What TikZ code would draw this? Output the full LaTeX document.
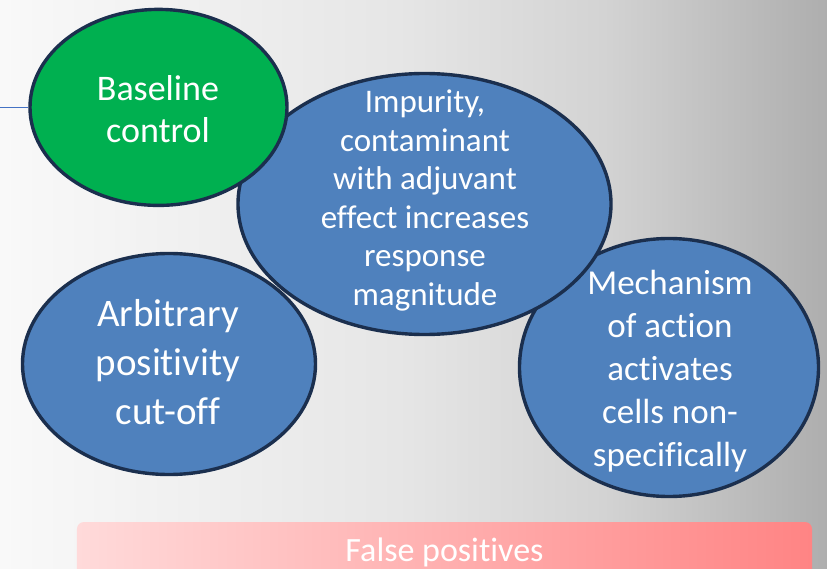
\documentclass[tikz,border=0pt]{standalone}
\usepackage{fontspec}
\setmainfont{Carlito}[Ligatures={NoCommon,NoContextual}]
\usetikzlibrary{shapes.geometric}

\definecolor{bgA}{HTML}{F9F9F9}
\definecolor{bgB}{HTML}{E6E6E6}
\definecolor{bgC}{HTML}{D3D3D3}
\definecolor{bgD}{HTML}{AEAEAE}
\definecolor{bubbleblue}{HTML}{4F81BD}
\definecolor{bubblegreen}{HTML}{00B050}
\definecolor{rim}{HTML}{1B2F4E}
\definecolor{linkblue}{HTML}{4472C4}
\definecolor{pinkL}{HTML}{FFDADA}
\definecolor{pinkR}{HTML}{FF8484}

% slide backdrop, light on the left and darker grey on the right
\pgfdeclarehorizontalshading{backdrop}{100bp}{%
  color(0bp)=(bgA); color(25bp)=(bgA); color(49bp)=(bgB);
  color(61.5bp)=(bgC); color(75bp)=(bgD); color(100bp)=(bgD)}

\tikzset{
  bubble/.style={ellipse, draw=rim, line width=3.4bp, inner sep=0pt},
  bubbletext/.style={text=white, align=center, inner sep=0pt},
  link/.style={draw=linkblue, line width=1.5bp},
  banner/.style={rounded corners=7bp, left color=pinkL, right color=pinkR,
    draw=none, text=white, inner sep=0pt,
    font={\fontsize{34bp}{40bp}\selectfont}}
}

\begin{document}
\begin{tikzpicture}[x=1bp, y=-1bp]
  \useasboundingbox (0,0) rectangle (827,569);
  \clip (0,0) rectangle (827,569);
  \shade[shading=backdrop] (0,0) rectangle (827,569);

  % bubbles, back to front
  \node[bubble, fill=bubbleblue, minimum width=293bp, minimum height=221bp]
    (cutoff) at (169,364) {};
  \node[bubble, fill=bubbleblue, minimum width=299bp, minimum height=258bp]
    (moa) at (669,367.5) {};
  \node[bubble, fill=bubbleblue, minimum width=373bp, minimum height=261bp]
    (impurity) at (424.5,204) {};
  \node[bubble, fill=bubblegreen, minimum width=257bp, minimum height=196bp]
    (baseline) at (158.5,107.4) {};

  % short lead-in line on the left
  \coordinate (lefttab) at (0,107.4);
  \draw[link] (lefttab) -- (baseline.west);

  % labels
  \node[bubbletext, font={\fontsize{36bp}{42bp}\selectfont}]
    (baselinetxt) at (158,109.5) {Baseline\\control};
  \node[bubbletext, font={\fontsize{33bp}{38.6bp}\selectfont}]
    (impuritytxt) at (425,200.5)
    {Impurity,\\contaminant\\with adjuvant\\effect increases\\response\\magnitude};
  \node[bubbletext, font={\fontsize{39bp}{49bp}\selectfont}]
    (cutofftxt) at (168,362.5) {Arbitrary\\positivity\\cut-off};
  \node[bubbletext, font={\fontsize{35bp}{43bp}\selectfont}]
    (moatxt) at (670,371)
    {Mechanism\\of action\\activates\\cells non-\\specifically};

  % banner along the bottom
  \node[banner, minimum width=735bp, minimum height=60bp]
    (falsepos) at (444.5,552) {False positives};
\end{tikzpicture}
\end{document}
